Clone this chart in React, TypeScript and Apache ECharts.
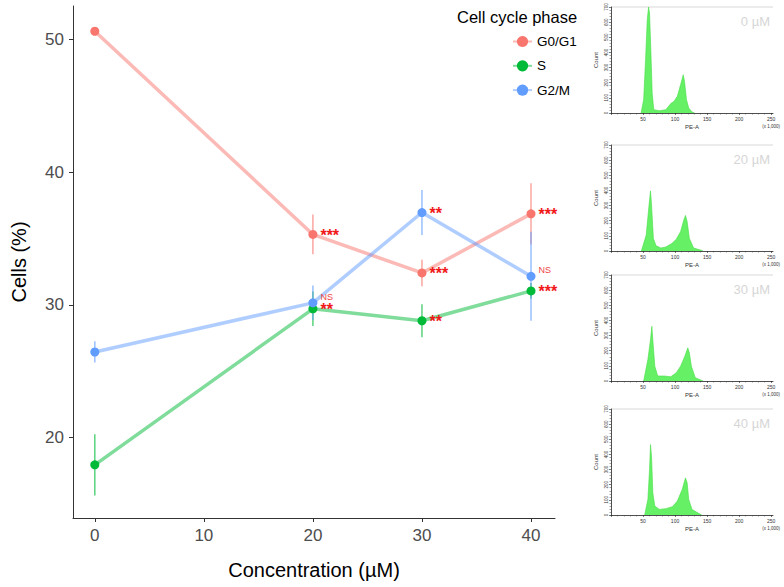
import React, { useEffect, useRef } from "react";
import * as echarts from "echarts";

// ---- main chart data ----
const concentrations = [0, 20, 30, 40];
const phases = ["G0/G1", "S", "G2/M"];
const g0g1Mean = [50.6, 35.3, 32.4, 36.85];
const g0g1Err = [0.2, 1.5, 1.0, 2.3];
const sMean = [17.95, 29.7, 28.8, 31.05];
const sErr = [2.3, 1.3, 1.25, 0.6];
const g2mMean = [26.45, 30.15, 36.95, 32.15];
const g2mErr = [0.8, 1.3, 1.7, 3.35];
const g0g1Sig = ["", "***", "***", "***"];
const sSig = ["", "**", "**", "***"];
const g2mSig = ["", "NS", "**", "NS"];
const yTicks = [20, 30, 40, 50];
const xTicks = [0, 10, 20, 30, 40];

// ---- inset histograms (PE-A x1000, count) ----
const histLabels = ["0 µM", "20 µM", "30 µM", "40 µM"];
const hist0 = [
  [47, 0], [51, 88], [54, 352], [56.6, 616], [58.7, 700], [60.2, 660], [62.2, 418], [64.3, 132],
  [66.8, 22], [75.5, 15], [85.7, 22], [93.4, 62], [98.5, 77], [103.6, 110], [108.7, 187],
  [112.8, 253], [114.8, 209], [117.9, 88], [121.4, 33], [126.5, 7], [130.6, 0],
];
const hist20 = [
  [47.4, 0], [55, 105], [59, 285], [61.7, 397], [63.1, 319], [66.2, 83], [70.4, 34], [78, 20],
  [85.7, 27], [94.9, 49], [102, 78], [108.7, 128], [113.8, 206], [116.3, 235], [118.9, 195],
  [122.4, 83], [129, 20], [141.8, 4], [144, 0],
];
const hist30 = [
  [51, 0], [57.6, 142], [61.7, 273], [63.8, 361], [65.3, 273], [68.4, 98], [73, 33], [83.2, 33],
  [93.4, 28], [102, 55], [108.7, 98], [115.3, 164], [119.9, 219], [122.4, 186], [125.5, 98],
  [131.6, 22], [141.8, 4], [144, 0],
];
const hist40 = [
  [52.6, 0], [57.6, 103], [60.2, 301], [61.7, 465], [63.3, 388], [65.3, 147], [68.4, 59],
  [75.5, 37], [85.7, 42], [95.9, 55], [103.6, 92], [111.2, 169], [116.3, 245], [118.9, 213],
  [121.4, 103], [126.5, 37], [136.7, 11], [141.8, 0],
];
const histXTicks = [50, 100, 150, 200, 250];

const FONT = "Liberation Sans, Arial, sans-serif";
const COLORS = ["#F8766D", "#00BA38", "#619CFF"];

export default function App() {
  const ref = useRef<HTMLDivElement>(null);
  useEffect(() => {
    if (!ref.current) return;
    const chart = echarts.init(ref.current, null, { renderer: "svg" });
    const means = [g0g1Mean, sMean, g2mMean];
    const errs = [g0g1Err, sErr, g2mErr];
    const sigs = [g0g1Sig, sSig, g2mSig];

    const series: any[] = [];
    phases.forEach((name, k) => {
      series.push({
        name,
        type: "line",
        xAxisIndex: 0,
        yAxisIndex: 0,
        data: concentrations.map((c, i) => {
          const s = sigs[k][i];
          const ns = s === "NS";
          return {
            value: [c, means[k][i]],
            label: {
              show: s !== "",
              formatter: s,
              position: "right",
              distance: 3,
              offset: ns ? [0, -6] : [0, 1],
              color: ns ? "#EE4444" : "#F01818",
              fontSize: ns ? 9 : 16,
              fontWeight: ns ? "normal" : "bold",
              fontFamily: FONT,
            },
          };
        }),
        symbol: "circle",
        symbolSize: 9,
        itemStyle: { color: COLORS[k] },
        lineStyle: { color: COLORS[k], width: 3.5, opacity: 0.5 },
        z: 4,
      });
      series.push({
        name: name + " err",
        type: "custom",
        xAxisIndex: 0,
        yAxisIndex: 0,
        data: concentrations.map((c, i) => [c, means[k][i] - errs[k][i], means[k][i] + errs[k][i]]),
        encode: { x: 0, y: [1, 2] },
        renderItem: (params: any, api: any) => {
          const x = api.value(0);
          const p1 = api.coord([x, api.value(1)]);
          const p2 = api.coord([x, api.value(2)]);
          return {
            type: "line",
            shape: { x1: p1[0], y1: p1[1], x2: p2[0], y2: p2[1] },
            style: { stroke: COLORS[k], lineWidth: 1.5, opacity: 0.65 },
          };
        },
        z: 3,
      });
    });

    const hists = [hist0, hist20, hist30, hist40];
    const panelTops = [7, 145, 275, 409];
    const panelH = 106;
    const grids: any[] = [{ left: 73, top: 6, right: 229, bottom: 69 }];
    const xAxes: any[] = [
      {
        type: "value",
        gridIndex: 0,
        min: -2,
        max: 42.2,
        name: "Concentration (µM)",
        nameLocation: "middle",
        nameGap: 42,
        nameTextStyle: { fontSize: 20, color: "#000", fontFamily: FONT },
        axisLine: { onZero: false, lineStyle: { color: "#333", width: 1 } },
        axisTick: { show: true, length: 4, lineStyle: { color: "#333" }, customValues: xTicks },
        axisLabel: { fontSize: 17, color: "#4D4D4D", margin: 9, fontFamily: FONT, customValues: xTicks },
        splitLine: { show: false },
      },
    ];
    const yAxes: any[] = [
      {
        type: "value",
        gridIndex: 0,
        min: 13.95,
        max: 52.5,
        name: "Cells (%)",
        nameLocation: "middle",
        nameGap: 44,
        nameTextStyle: { fontSize: 20, color: "#000", fontFamily: FONT },
        axisLine: { show: true, onZero: false, lineStyle: { color: "#333", width: 1 } },
        axisTick: { show: true, length: 4, lineStyle: { color: "#333" }, customValues: yTicks },
        axisLabel: { fontSize: 17, color: "#4D4D4D", margin: 9, fontFamily: FONT, customValues: yTicks },
        splitLine: { show: false },
      },
    ];
    const graphics: any[] = [];
    hists.forEach((h, j) => {
      const gi = j + 1;
      grids.push({ left: 611, top: panelTops[j], width: 162, height: panelH });
      xAxes.push({
        type: "value",
        gridIndex: gi,
        min: 0,
        max: 253,
        name: "PE-A",
        nameLocation: "middle",
        nameGap: 11,
        nameTextStyle: { fontSize: 6, color: "#333", fontFamily: FONT },
        axisLine: { onZero: false, lineStyle: { color: "#222", width: 0.8 } },
        axisTick: { show: true, length: 2, lineStyle: { color: "#222", width: 0.6 }, customValues: [0, ...histXTicks] },
        minorTick: { show: true, splitNumber: 5, length: 1.5, lineStyle: { color: "#444", width: 0.5 } },
        axisLabel: { fontSize: 5, color: "#333", margin: 3, customValues: histXTicks, fontFamily: FONT },
        splitLine: { show: false },
      });
      yAxes.push({
        type: "value",
        gridIndex: gi,
        min: 0,
        max: 700,
        interval: 100,
        name: "Count",
        nameLocation: "middle",
        nameGap: 12,
        nameTextStyle: { fontSize: 6, color: "#333", fontFamily: FONT },
        axisLine: { show: true, onZero: false, lineStyle: { color: "#222", width: 0.8 } },
        axisTick: { show: true, length: 2, lineStyle: { color: "#222", width: 0.6 } },
        minorTick: { show: true, splitNumber: 5, length: 1.5, lineStyle: { color: "#444", width: 0.5 } },
        axisLabel: { fontSize: 4.5, color: "#333", margin: 2, rotate: 90, fontFamily: FONT },
        splitLine: { show: false },
      });
      series.push({
        name: histLabels[j],
        type: "line",
        xAxisIndex: gi,
        yAxisIndex: gi,
        data: h,
        symbol: "none",
        lineStyle: { color: "#44DD44", width: 0.6 },
        areaStyle: { color: "#66F066", opacity: 1 },
        z: 2,
      });
      graphics.push({
        type: "line",
        shape: { x1: 611, y1: panelTops[j], x2: 773, y2: panelTops[j] },
        style: { stroke: "#D8D8D8", lineWidth: 1 },
      });
      graphics.push({
        type: "text",
        right: 14,
        top: panelTops[j] + 8,
        style: { text: histLabels[j], fontSize: 13, fill: "#D6D6D6", fontFamily: FONT },
      });
      graphics.push({
        type: "text",
        right: 4,
        top: panelTops[j] + panelH + 11,
        style: { text: "(x 1,000)", fontSize: 4.5, fill: "#333", fontFamily: FONT },
      });
    });

    chart.setOption({
      animation: false,
      backgroundColor: "#fff",
      textStyle: { fontFamily: FONT },
      title: {
        text: "Cell cycle phase",
        left: 452,
        top: 3,
        textStyle: { fontSize: 16.5, fontWeight: "normal", color: "#000", fontFamily: FONT },
      },
      legend: {
        data: phases,
        orient: "vertical",
        left: 507,
        top: 29.5,
        itemWidth: 19,
        itemHeight: 14,
        itemGap: 10.3,
        textStyle: { fontSize: 13.5, color: "#000", fontFamily: FONT },
      },
      grid: grids,
      xAxis: xAxes,
      yAxis: yAxes,
      series,
      graphic: graphics,
    });
    return () => chart.dispose();
  }, []);
  return (
    <div
      ref={ref}
      style={{ position: "absolute", left: 0, top: 0, width: 784, height: 587 }}
    />
  );
}
